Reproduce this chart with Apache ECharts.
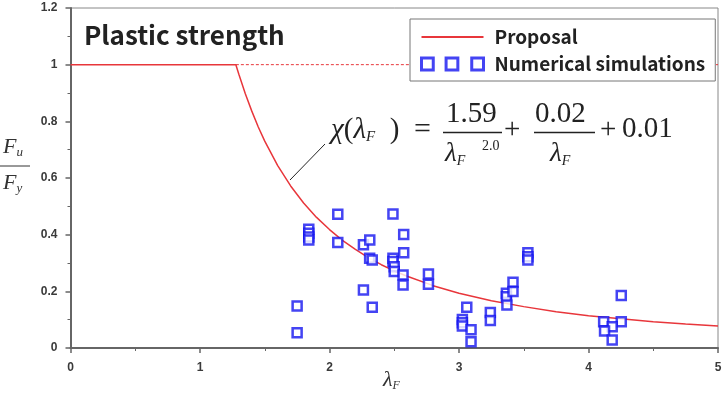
<!DOCTYPE html>
<html><head><meta charset="utf-8">
<script src="https://cdn.jsdelivr.net/npm/echarts@6/dist/echarts.min.js"></script>
<style>html,body{margin:0;padding:0;background:#fff}#c{width:725px;height:400px}</style>
</head><body><div id="c"></div>
<script>
// Numerical simulations (lambda_F, Fu/Fy)
const simX = [1.75,1.75,1.84,1.84,1.84,1.84,2.064,2.064,2.262,2.311,2.31,2.33,2.262,2.33,2.49,2.573,2.573,2.49,2.49,2.50,2.50,2.568,2.568,2.764,2.764,3.06,3.026,3.026,3.026,3.093,3.093,3.242,3.242,3.366,3.366,3.37,3.417,3.417,3.532,3.532,3.532,4.253,4.117,4.253,4.183,4.124,4.183];
const simY = [0.148,0.054,0.419,0.405,0.392,0.381,0.472,0.372,0.364,0.381,0.317,0.311,0.205,0.144,0.473,0.401,0.336,0.317,0.305,0.287,0.270,0.258,0.222,0.261,0.225,0.144,0.101,0.089,0.078,0.064,0.022,0.125,0.097,0.193,0.181,0.152,0.232,0.199,0.336,0.322,0.311,0.185,0.093,0.093,0.075,0.060,0.028];
// Proposal curve
const propX = [0,1.277,1.3,1.35,1.4,1.45,1.5,1.6,1.7,1.8,1.9,2.0,2.1,2.2,2.3,2.4,2.5,2.6,2.8,3.0,3.25,3.5,3.75,4.0,4.25,4.5,4.75,5.0];
const propY = [1.0,1.0,0.966,0.897,0.836,0.780,0.730,0.644,0.572,0.512,0.461,0.418,0.380,0.348,0.319,0.294,0.272,0.253,0.220,0.193,0.167,0.146,0.128,0.114,0.103,0.093,0.085,0.078];
// Plastic plateau continuation
const plateauX = [1.277,5.0];
const plateauY = [1.0,1.0];
const xTicks = [0,1,2,3,4,5];
const yTicks = [0,0.2,0.4,0.6,0.8,1,1.2];

const chart = echarts.init(document.getElementById('c'));
const zip = (a,b)=>a.map((v,i)=>[v,b[i]]);
const RED = '#e8363b', BLUE = '#1515f0';
const SER = '"Liberation Serif", serif';
const labelFont = {fontFamily:'Liberation Sans', fontWeight:'bold', fontSize:12, color:'#3a3a3a'};
const it = s => 'italic '+s+'px '+SER;
const rm = s => s+'px '+SER;

chart.setOption({
  animation:false,
  grid:{left:70.5,right:7,top:8,bottom:52,show:true,borderColor:'#888',borderWidth:1},
  xAxis:{type:'value',min:xTicks[0],max:xTicks[xTicks.length-1],interval:1,
    axisLine:{lineStyle:{color:'#666',width:2}},
    axisTick:{show:true,length:5,lineStyle:{color:'#666',width:1.5}},
    minorTick:{show:true,splitNumber:2,length:3,lineStyle:{color:'#666'}},
    splitLine:{show:false},
    axisLabel:Object.assign({margin:14},labelFont)},
  yAxis:{type:'value',min:yTicks[0],max:yTicks[yTicks.length-1],interval:0.2,
    axisLine:{show:true,lineStyle:{color:'#666',width:2}},
    axisTick:{show:true,length:5,lineStyle:{color:'#666',width:1.5}},
    minorTick:{show:true,splitNumber:2,length:3,lineStyle:{color:'#666'}},
    splitLine:{show:false},
    axisLabel:Object.assign({margin:13},labelFont)},
  legend:{
    orient:'vertical',left:410,top:19,
    backgroundColor:'#fff',borderColor:'#777',borderWidth:1,
    padding:[7,10,6,10],itemGap:5,itemWidth:62,itemHeight:14,
    textStyle:{fontFamily:'Noto Sans CJK KR',fontWeight:'bold',fontSize:19,lineHeight:22,color:'#222',padding:[0,0,0,6]},
    data:[
      {name:'Proposal',icon:'path://M0,0h62v2h-62z',itemStyle:{color:RED,borderWidth:0}},
      {name:'Numerical simulations',icon:'path://M0,0h11v11h-11z M23,0h11v11h-11z M47,0h11v11h-11z',itemStyle:{color:'rgba(0,0,0,0)',borderColor:BLUE,borderWidth:3}}
    ]
  },
  series:[
    {name:'Proposal',type:'line',data:zip(propX,propY),showSymbol:false,symbol:'none',
      lineStyle:{color:RED,width:1.5},itemStyle:{color:RED},z:3},
    {name:'plateau',type:'line',data:zip(plateauX,plateauY),showSymbol:false,symbol:'none',
      lineStyle:{color:RED,width:1,type:[3,2]},z:2},
    {name:'Numerical simulations',type:'scatter',data:zip(simX,simY),symbol:'rect',symbolSize:9,
      itemStyle:{color:'#fff',borderColor:BLUE,borderWidth:2.5},z:4}
  ],
  graphic:[
    {type:'text',x:84,y:22,style:{text:'Plastic strength',font:'bold 26px "Noto Sans CJK KR"',fill:'#222'}},
    // y axis name
    {type:'text',x:3,y:136,style:{text:'{a|F}{s|u}',rich:{a:{font:it(22),fill:'#333'},s:{font:it(13),fill:'#333',padding:[10,0,0,0]}}}},
    {type:'line',shape:{x1:0,y1:166,x2:30,y2:166},style:{stroke:'#333',lineWidth:1}},
    {type:'text',x:3,y:172,style:{text:'{a|F}{s|y}',rich:{a:{font:it(22),fill:'#333'},s:{font:it(13),fill:'#333',padding:[10,0,0,0]}}}},
    // x axis name
    {type:'text',x:383,y:368,style:{text:'{a|λ}{s|F}',rich:{a:{font:it(22),fill:'#333'},s:{font:it(12),fill:'#333',padding:[12,0,0,0]}}}},
    // formula
    {type:'line',shape:{x1:290,y1:180,x2:325,y2:144},style:{stroke:'#222',lineWidth:1}},
    {type:'text',x:331,y:116,style:{text:'{i|χ}{n|(}{i|λ}{f|F}{n|  )}',rich:{
      i:{font:it(29),fill:'#222'},
      n:{font:rm(29),fill:'#222'},
      f:{font:it(15),fill:'#222',padding:[14,0,0,0]}}}},
    {type:'text',x:414,y:115,style:{text:'=',font:rm(30),fill:'#222'}},
    {type:'text',x:446,y:100,style:{text:'1.59',font:rm(29),fill:'#222'}},
    {type:'line',shape:{x1:443,y1:132.5,x2:502,y2:132.5},style:{stroke:'#222',lineWidth:1.3}},
    {type:'text',x:445,y:140,style:{text:'{i|λ}{f|F}',rich:{i:{font:it(27),fill:'#222'},f:{font:it(14),fill:'#222',padding:[14,0,0,0]}}}},
    {type:'text',x:482,y:139,style:{text:'2.0',font:rm(14),fill:'#222'}},
    {type:'text',x:504,y:116,style:{text:'+',font:rm(29),fill:'#222'}},
    {type:'text',x:535,y:100,style:{text:'0.02',font:rm(29),fill:'#222'}},
    {type:'line',shape:{x1:534,y1:132.5,x2:595,y2:132.5},style:{stroke:'#222',lineWidth:1.3}},
    {type:'text',x:550,y:140,style:{text:'{i|λ}{f|F}',rich:{i:{font:it(27),fill:'#222'},f:{font:it(14),fill:'#222',padding:[14,0,0,0]}}}},
    {type:'text',x:600,y:116,style:{text:'+',font:rm(29),fill:'#222'}},
    {type:'text',x:622,y:115,style:{text:'0.01',font:rm(29),fill:'#222'}}
  ]
});
</script></body></html>
